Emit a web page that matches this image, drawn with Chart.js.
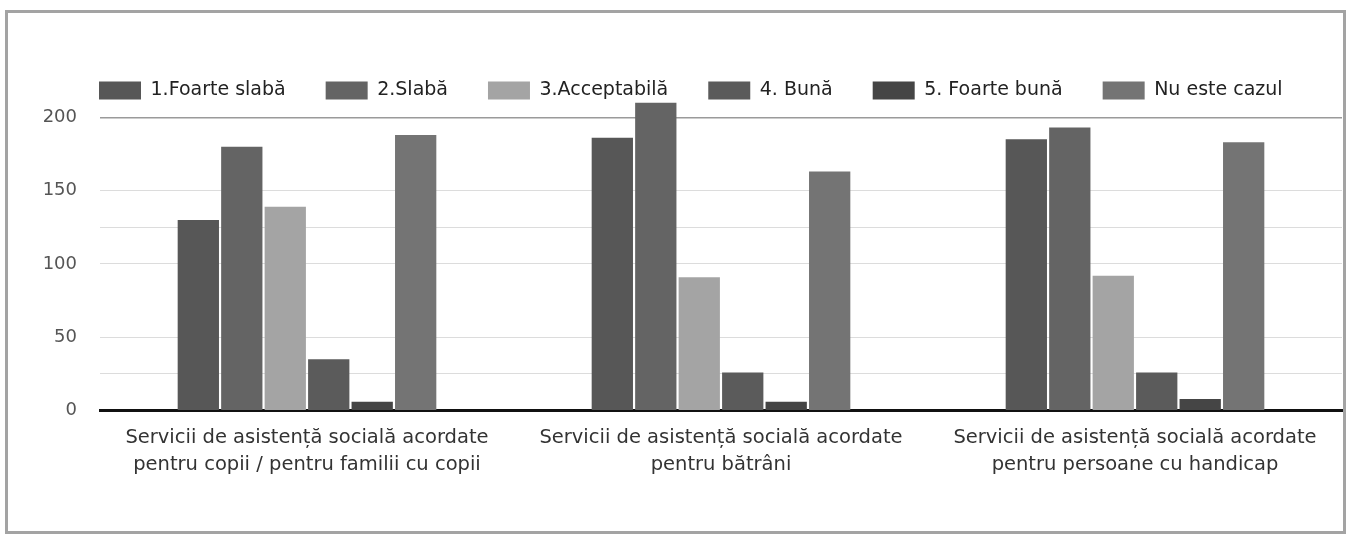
<!DOCTYPE html>
<html>
<head>
<meta charset="utf-8">
<script src="https://cdn.jsdelivr.net/npm/chart.js@4.4.1/dist/chart.umd.min.js"></script>
<style>
  html, body { margin: 0; padding: 0; background: #fff; }
  #frame { position: absolute; left: 5px; top: 10px; width: 1335px; height: 518px; border: 3px solid #a3a3a3; }
  #wrap { position: absolute; left: 0; top: 0; width: 1348px; height: 536px; }
</style>
</head>
<body>
<div id="frame"></div>
<div id="wrap"><canvas id="chart"></canvas></div>
<script>
// --- data ---
const categories = [
  ['Servicii de asistență socială acordate', 'pentru copii / pentru familii cu copii'],
  ['Servicii de asistență socială acordate', 'pentru bătrâni'],
  ['Servicii de asistență socială acordate', 'pentru persoane cu handicap']
];
const seriesNames = ['1.Foarte slabă', '2.Slabă', '3.Acceptabilă', '4. Bună', '5. Foarte bună', 'Nu este cazul'];
const foarteSlaba = [130, 186, 185];
const slaba       = [180, 210, 193];
const acceptabila = [139, 91, 92];
const buna        = [35, 26, 26];
const foarteBuna  = [6, 6, 8];
const nuEsteCazul = [188, 163, 183];
const yTicks = [0, 25, 50, 100, 125, 150, 200];
const yLabelled = [0, 50, 100, 150, 200];

// grey tones as they come out of the scan
const colors = ['#575757', '#646464', '#a4a4a4', '#5b5b5b', '#454545', '#747474'];
const values = [foarteSlaba, slaba, acceptabila, buna, foarteBuna, nuEsteCazul];

const FONT = 'DejaVu Sans';

// legend starts at the plot's left edge, not at the canvas edge
const legendShift = {
  id: 'legendShift',
  afterLayout(chart) {
    const lg = chart.legend;
    if (!lg) return;
    const dx = chart.chartArea.left - 40 - lg.left - 1;
    lg.left += dx;
    lg.right += dx;
  }
};

new Chart(document.getElementById('chart').getContext('2d'), {
  type: 'bar',
  data: {
    labels: categories,
    datasets: seriesNames.map((name, i) => ({
      label: name,
      data: values[i],
      backgroundColor: colors[i],
      borderWidth: 0,
      categoryPercentage: 0.63,
      barPercentage: 0.95,
      clip: false
    }))
  },
  options: {
    responsive: true,
    maintainAspectRatio: false,
    animation: false,
    layout: { padding: { left: 20, right: 6, top: 41, bottom: 44 } },
    plugins: {
      tooltip: { enabled: false },
      legend: {
        position: 'top',
        align: 'start',
        labels: {
          boxWidth: 42,
          boxHeight: 18,
          padding: 40,
          color: '#222',
          font: { family: FONT, size: 19 }
        }
      }
    },
    scales: {
      x: {
        grid: { display: false, drawTicks: false },
        border: { display: true, color: '#111', width: 3 },
        ticks: {
          color: '#333',
          padding: 13,
          maxRotation: 0,
          autoSkip: false,
          font: { family: FONT, size: 19.5, lineHeight: 1.42 }
        }
      },
      y: {
        min: 0,
        max: 205,
        afterBuildTicks: scale => { scale.ticks = yTicks.map(v => ({ value: v })); },
        afterFit: scale => { scale.width = 80; },
        border: { display: false },
        grid: {
          drawTicks: false,
          color: ctx => ctx.tick.value === 0 ? 'rgba(0,0,0,0)' : (ctx.tick.value === 200 ? '#9a9a9a' : '#dcdcdc'),
          lineWidth: ctx => ctx.tick.value === 200 ? 1.5 : 1
        },
        ticks: {
          color: '#555',
          padding: 23,
          font: { family: FONT, size: 18 },
          callback: v => yLabelled.includes(v) ? String(v) : ''
        }
      }
    }
  },
  plugins: [legendShift]
});
</script>
</body>
</html>
